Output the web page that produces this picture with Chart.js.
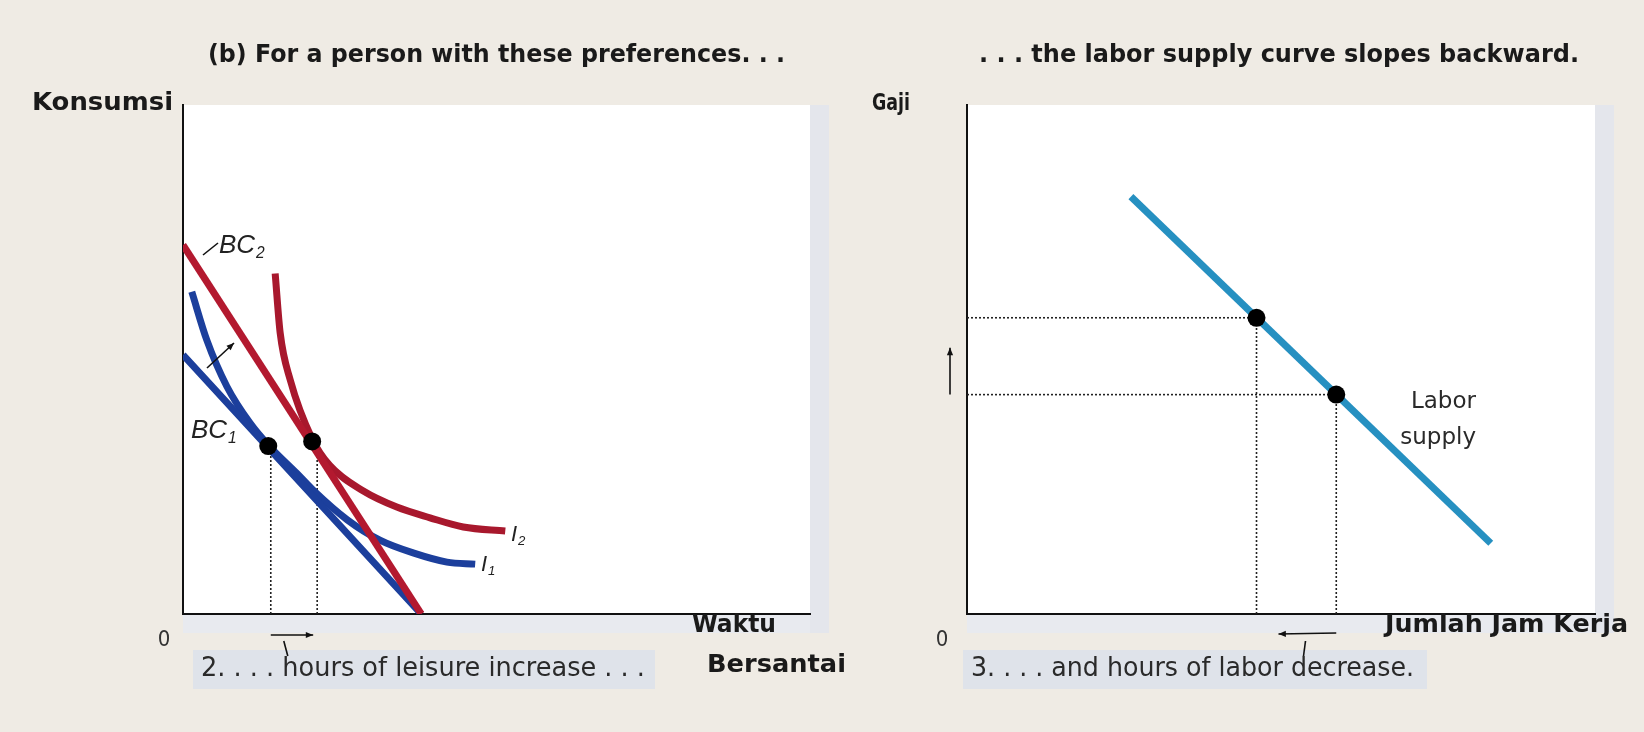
<!DOCTYPE html>
<html>
<head>
<meta charset="utf-8">
<script src="https://cdn.jsdelivr.net/npm/chart.js@4.4.1/dist/chart.umd.min.js"></script>
<style>
  html, body { margin: 0; padding: 0; background: #efebe4; }
  #wrap { position: relative; width: 1644px; height: 732px; overflow: hidden; }
  #leisureChart { position: absolute; left: 0; top: 0; }
  #laborChart { position: absolute; left: 860px; top: 0; }
</style>
</head>
<body>
<div id="wrap">
  <canvas id="leisureChart" width="860" height="732"></canvas>
  <canvas id="laborChart" width="784" height="732"></canvas>
</div>
<script>
// Left panel: leisure (x) vs consumption (y), schematic units 0-100
const bc1X = [0, 38];
const bc1Y = [50.9, 0];
const bc2X = [0, 38];
const bc2Y = [72.5, 0];
const i1X = [1.4, 3.8, 7.0, 10.7, 13.6, 18.1, 20.7, 26.2, 31.4, 36.7, 42.1, 46.6];
const i1Y = [63.3, 53.8, 44.7, 37.5, 33.2, 27.7, 24.4, 18.5, 14.5, 12.0, 10.2, 9.8];
const i2X = [14.7, 15.5, 17.1, 20.6, 23.4, 28.7, 34.1, 39.4, 44.7, 51.4];
const i2Y = [66.9, 55.2, 46.0, 34.4, 29.2, 24.2, 21.0, 18.9, 17.1, 16.3];
const optimumX = [13.6, 20.6];
const optimumY = [33.0, 33.9];
const leisureGuideX = [14.0, 21.4];

// Right panel: hours of work (x) vs wage (y)
const supplyX = [26.1, 83.4];
const supplyY = [82.0, 13.9];
const wagePointX = [46.1, 58.8];
const wagePointY = [58.2, 43.1];

const BLUE = '#1c3f9c';
const RED = '#b3192f';
const TEAL = '#2690c1';
const fam = '"DejaVu Sans Condensed", "Liberation Sans Narrow", "DejaVu Sans", sans-serif';

function pairs(xs, ys) {
  return xs.map((x, i) => ({ x: x, y: ys[i] }));
}

function curve(xs, ys, color, width, order) {
  return {
    data: pairs(xs, ys),
    borderColor: color,
    borderWidth: width,
    pointRadius: 0,
    fill: false,
    cubicInterpolationMode: 'monotone',
    order: order
  };
}

function dots(xs, ys) {
  return {
    data: pairs(xs, ys),
    showLine: false,
    pointRadius: 9,
    pointBackgroundColor: '#000',
    pointBorderWidth: 0,
    order: 0
  };
}

function guide(pts) {
  return {
    data: pts,
    borderColor: '#222',
    borderWidth: 1.6,
    borderDash: [2, 2],
    pointRadius: 0,
    fill: false,
    order: 9
  };
}

function axis(pos) {
  return {
    type: 'linear', position: pos, min: 0, max: 100,
    grid: { display: false, drawTicks: false },
    ticks: { display: false },
    border: { display: true, color: '#111', width: 2 }
  };
}

// text helper: fixed size, squeezed/stretched horizontally to width w when given
function text(ctx, str, x, y, o) {
  o = o || {};
  const weight = o.bold ? 'bold' : 'normal';
  const style = o.italic ? 'italic' : 'normal';
  const family = o.family || fam;
  const size = o.size || 20;
  ctx.save();
  ctx.font = `${style} ${weight} ${size}px ${family}`;
  ctx.fillStyle = o.color || '#1a1a1a';
  ctx.textAlign = o.align || 'left';
  ctx.textBaseline = o.base || 'middle';
  let sx = 1;
  if (o.w) sx = o.w / ctx.measureText(str).width;
  ctx.translate(x, y);
  ctx.scale(sx, 1);
  ctx.fillText(str, 0, 0);
  ctx.restore();
}

function arrow(ctx, x1, y1, x2, y2, head) {
  const ang = Math.atan2(y2 - y1, x2 - x1);
  ctx.strokeStyle = '#111';
  ctx.fillStyle = '#111';
  ctx.lineWidth = 1.6;
  ctx.beginPath();
  ctx.moveTo(x1, y1);
  ctx.lineTo(x2, y2);
  ctx.stroke();
  if (head) {
    ctx.beginPath();
    ctx.moveTo(x2, y2);
    ctx.lineTo(x2 - head * Math.cos(ang - 0.4), y2 - head * Math.sin(ang - 0.4));
    ctx.lineTo(x2 - head * Math.cos(ang + 0.4), y2 - head * Math.sin(ang + 0.4));
    ctx.closePath();
    ctx.fill();
  }
}

function sub(ctx, main, index, x, y, size) {
  const f = '"Liberation Sans", Arial, sans-serif';
  ctx.font = `italic normal ${size}px ${f}`;
  const w = ctx.measureText(main).width;
  text(ctx, main, x, y, { italic: true, size: size, family: f, base: 'alphabetic', color: '#222' });
  text(ctx, index, x + w + 1, y + size * 0.18, { italic: true, size: size * 0.6, family: f, base: 'alphabetic', color: '#222' });
}

// white plot area, grey strip on the right and band under the x axis
const panelBg = {
  id: 'panelBg',
  beforeDraw(chart) {
    const { ctx, chartArea: a } = chart;
    ctx.save();
    ctx.fillStyle = '#ffffff';
    ctx.fillRect(a.left, a.top, a.right - a.left, a.bottom - a.top);
    ctx.fillStyle = '#e4e6ec';
    ctx.fillRect(a.right, a.top, 19, a.bottom - a.top + 19);
    ctx.fillStyle = '#e8eaef';
    ctx.fillRect(a.left, a.bottom, a.right - a.left, 19);
    ctx.restore();
  }
};

const leisureNotes = {
  id: 'leisureNotes',
  afterDraw(chart) {
    const { ctx, chartArea: a, scales: { x } } = chart;
    ctx.save();
    text(ctx, '(b) For a person with these preferences. . .', 208, 56, { bold: true, size: 24, w: 577 });
    text(ctx, 'Konsumsi', 173, 104, { bold: true, size: 24, w: 141, align: 'right' });
    text(ctx, '0', 164, 640, { size: 22, align: 'center', color: '#333' });
    text(ctx, 'Waktu', 692, 626, { bold: true, size: 24, w: 84 });
    text(ctx, 'Bersantai', 846, 666, { bold: true, size: 24, w: 139, align: 'right' });

    ctx.fillStyle = '#dfe3ea';
    ctx.fillRect(193, 650, 462, 39);
    text(ctx, '2. . . . hours of leisure increase . . .', 201, 669, { size: 26, w: 444, color: '#2a2a2a' });

    sub(ctx, 'BC', '2', 219, 253, 26);
    sub(ctx, 'BC', '1', 191, 438, 26);
    sub(ctx, 'I', '2', 511, 541, 22);
    sub(ctx, 'I', '1', 481, 571, 22);

    arrow(ctx, 203, 255, 218, 243, 0);
    arrow(ctx, 207, 368, 234, 343, 8);
    const g1 = x.getPixelForValue(leisureGuideX[0]);
    const g2 = x.getPixelForValue(leisureGuideX[1]);
    arrow(ctx, g1, a.bottom + 21, g2 - 4, a.bottom + 21, 8);
    arrow(ctx, g1 + 13, a.bottom + 27, g1 + 17, a.bottom + 42, 0);
    ctx.restore();
  }
};

const laborNotes = {
  id: 'laborNotes',
  afterDraw(chart) {
    const { ctx, chartArea: a, scales: { x, y } } = chart;
    ctx.save();
    text(ctx, '. . . the labor supply curve slopes backward.', 119, 56, { bold: true, size: 24, w: 600 });
    text(ctx, 'Gaji', 50, 104, { bold: true, size: 23, w: 38, align: 'right' });
    text(ctx, '0', 82, 640, { size: 22, align: 'center', color: '#333' });
    text(ctx, 'Jumlah Jam Kerja', 525, 626, { bold: true, size: 24, w: 243 });

    ctx.fillStyle = '#dfe3ea';
    ctx.fillRect(103, 650, 464, 39);
    text(ctx, '3. . . . and hours of labor decrease.', 111, 669, { size: 26, w: 443, color: '#2a2a2a' });

    text(ctx, 'Labor', 616, 402, { size: 23, align: 'right', color: '#2a2a2a', family: '"DejaVu Sans", sans-serif' });
    text(ctx, 'supply', 616, 438, { size: 23, align: 'right', color: '#2a2a2a', family: '"DejaVu Sans", sans-serif' });

    const yLo = y.getPixelForValue(wagePointY[1]);
    const yHi = y.getPixelForValue(wagePointY[0]);
    arrow(ctx, a.left - 17, yLo, a.left - 17, yHi + 30, 8);
    const h2 = x.getPixelForValue(wagePointX[1]);
    const h1 = x.getPixelForValue(wagePointX[0]);
    arrow(ctx, h2, a.bottom + 19, h1 + 22, a.bottom + 20, 8);
    arrow(ctx, h1 + 49, a.bottom + 27, h1 + 47, a.bottom + 42, 0);
    ctx.restore();
  }
};

const baseOptions = (pad) => ({
  responsive: false,
  animation: false,
  events: [],
  layout: { padding: pad },
  scales: { x: axis('bottom'), y: axis('left') },
  plugins: { legend: { display: false }, tooltip: { enabled: false } }
});

new Chart(document.getElementById('leisureChart').getContext('2d'), {
  type: 'line',
  data: {
    datasets: [
      dots(optimumX, optimumY),
      curve(bc2X, bc2Y, RED, 7, 1),
      curve(i2X, i2Y, '#a8182d', 7, 2),
      curve(bc1X, bc1Y, BLUE, 7, 3),
      curve(i1X, i1Y, BLUE, 7, 4),
      guide([{ x: leisureGuideX[0], y: 0 }, { x: leisureGuideX[0], y: optimumY[0] }]),
      guide([{ x: leisureGuideX[1], y: 0 }, { x: leisureGuideX[1], y: optimumY[1] }])
    ]
  },
  options: baseOptions({ left: 183, right: 50, top: 105, bottom: 118 }),
  plugins: [panelBg, leisureNotes]
});

new Chart(document.getElementById('laborChart').getContext('2d'), {
  type: 'line',
  data: {
    datasets: [
      dots(wagePointX, wagePointY),
      curve(supplyX, supplyY, TEAL, 7, 1),
      guide([{ x: 0, y: wagePointY[0] }, { x: wagePointX[0], y: wagePointY[0] }]),
      guide([{ x: wagePointX[0], y: 0 }, { x: wagePointX[0], y: wagePointY[0] }]),
      guide([{ x: 0, y: wagePointY[1] }, { x: wagePointX[1], y: wagePointY[1] }]),
      guide([{ x: wagePointX[1], y: 0 }, { x: wagePointX[1], y: wagePointY[1] }])
    ]
  },
  options: baseOptions({ left: 107, right: 49, top: 105, bottom: 118 }),
  plugins: [panelBg, laborNotes]
});
</script>
</body>
</html>
